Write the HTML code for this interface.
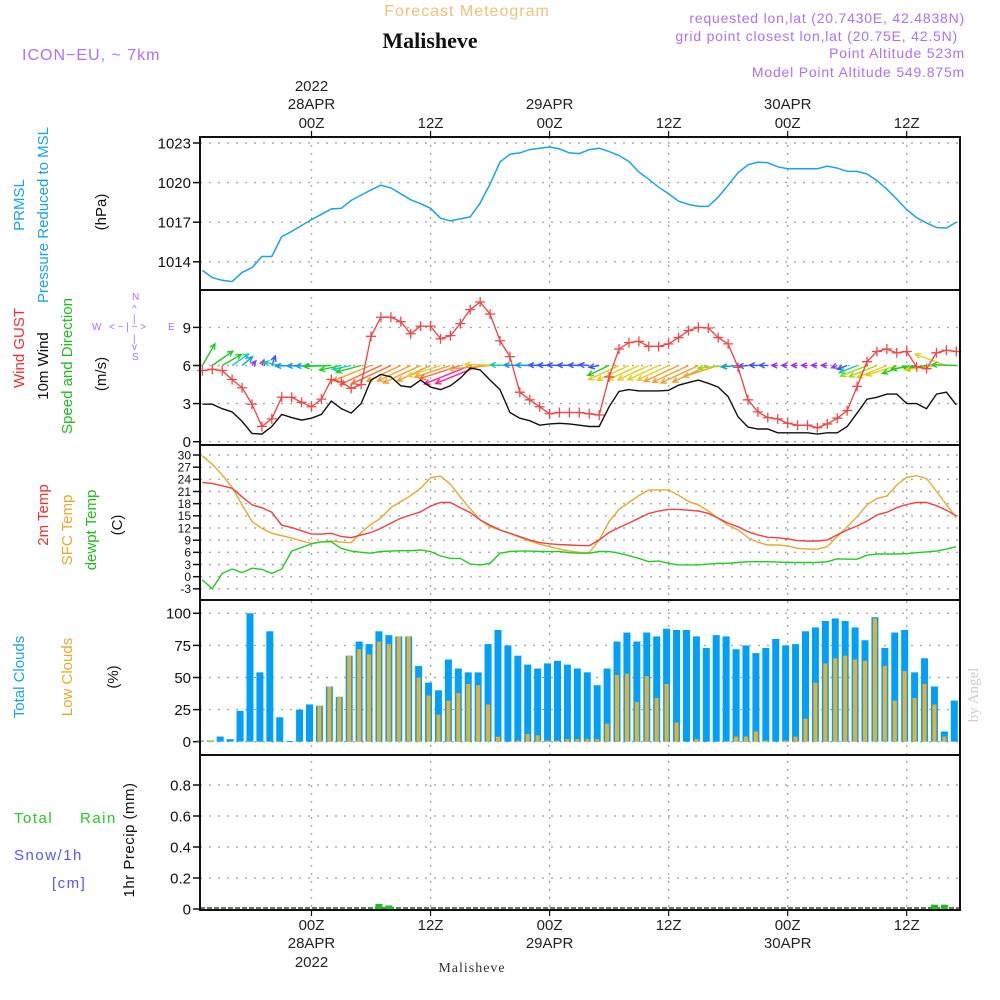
<!DOCTYPE html>
<html><head><meta charset="utf-8"><style>
html,body{margin:0;padding:0;background:#fff;}
svg{display:block;font-family:"Liberation Sans",sans-serif;}
</style></head><body>
<svg id="chart" width="1000" height="1000" viewBox="0 0 1000 1000" xmlns="http://www.w3.org/2000/svg">
<g id="static">
<text x="467" y="16" font-size="16" fill="#f2c078" text-anchor="middle" letter-spacing="1">Forecast Meteogram</text>
<text x="430" y="48" font-size="22" font-weight="bold" fill="#111" text-anchor="middle" style="font-family:'Liberation Serif',serif">Malisheve</text>
<text x="22" y="60" font-size="16" fill="#b070f0" letter-spacing="1">ICON−EU, ~ 7km</text>
<g font-size="14" fill="#b070f0" text-anchor="end" letter-spacing="0.8">
<text x="965" y="23">requested lon,lat (20.7430E, 42.4838N)</text>
<text x="958" y="41">grid point closest lon,lat (20.75E, 42.5N)</text>
<text x="965" y="58">Point Altitude 523m</text>
<text x="965" y="77">Model Point Altitude 549.875m</text>
</g>
<text x="978" y="695" font-size="15" fill="#ccc" text-anchor="middle" transform="rotate(-90 978 695)" style="font-family:'Liberation Serif',serif">by Angel</text>
<text x="472" y="972" font-size="14" fill="#333" text-anchor="middle" style="font-family:'Liberation Serif',serif" letter-spacing="1">Malisheve</text>
<g font-size="15">
<text transform="translate(24 205) rotate(-90)" text-anchor="middle" fill="#1aa3e8">PRMSL</text>
<text transform="translate(48 215) rotate(-90)" text-anchor="middle" fill="#1aa3e8">Pressure Reduced to MSL</text>
<text transform="translate(106 212) rotate(-90)" text-anchor="middle" fill="#111">(hPa)</text>
</g>
<g font-size="15">
<text transform="translate(24 348) rotate(-90)" text-anchor="middle" fill="#f03030">Wind GUST</text>
<text transform="translate(48 366) rotate(-90)" text-anchor="middle" fill="#111">10m Wind</text>
<text transform="translate(72 366) rotate(-90)" text-anchor="middle" fill="#22bb22">Speed and Direction</text>
<text transform="translate(106 374) rotate(-90)" text-anchor="middle" fill="#111">(m/s)</text>
</g>
<g font-size="10" fill="#b070f0">
<text x="132" y="300">N</text><text x="92" y="330">W</text><text x="168" y="330">E</text><text x="132" y="360">S</text>
<text x="109" y="330">&lt; − | − &gt;</text>
<text x="132" y="312">^</text><text x="133" y="322">|</text><text x="133" y="342">|</text><text x="132" y="350">v</text>
</g>
<g font-size="15">
<text transform="translate(48 515) rotate(-90)" text-anchor="middle" fill="#f03030">2m Temp</text>
<text transform="translate(72 530) rotate(-90)" text-anchor="middle" fill="#e8a830">SFC Temp</text>
<text transform="translate(96 530) rotate(-90)" text-anchor="middle" fill="#22bb22">dewpt Temp</text>
<text transform="translate(122 525) rotate(-90)" text-anchor="middle" fill="#111">(C)</text>
</g>
<g font-size="15">
<text transform="translate(24 677) rotate(-90)" text-anchor="middle" fill="#1aa3e8">Total Clouds</text>
<text transform="translate(72 677) rotate(-90)" text-anchor="middle" fill="#e8a830">Low Clouds</text>
<text transform="translate(118 677) rotate(-90)" text-anchor="middle" fill="#111">(%)</text>
</g>
<g font-size="15" letter-spacing="1.5">
<text x="14" y="823" fill="#22cc22">Total</text><text x="80" y="823" fill="#22cc22">Rain</text>
<text x="14" y="860" fill="#5555ff">Snow/1h</text>
<text x="52" y="888" fill="#5555ff">[cm]</text>
<text transform="translate(134 840) rotate(-90)" text-anchor="middle" fill="#111" letter-spacing="0.5">1hr Precip (mm)</text>
</g>
</g>
<g id="dyn"></g>
</svg>
<script>
// ---- data (hourly, h relative to 28APR 00Z) ----
const hourStart = -11;
const pressure = [1013.35,1012.8,1012.6,1012.5,1013.2,1013.55,1014.4,1014.4,1015.9,1016.3,1016.75,1017.2,1017.6,1018.0,1018.05,1018.65,1019.05,1019.45,1019.8,1019.6,1019.15,1018.7,1018.4,1018.05,1017.3,1017.1,1017.25,1017.4,1018.45,1019.9,1021.55,1022.15,1022.25,1022.5,1022.6,1022.7,1022.55,1022.25,1022.2,1022.5,1022.6,1022.35,1022.05,1021.6,1020.8,1020.25,1019.65,1019.15,1018.6,1018.35,1018.2,1018.2,1018.9,1019.8,1020.75,1021.35,1021.55,1021.5,1021.2,1021.05,1021.05,1021.05,1021.05,1021.25,1021.1,1020.85,1020.85,1020.65,1020.15,1019.5,1018.75,1017.95,1017.35,1016.95,1016.6,1016.55,1017.0];
const windGust = [5.6,5.7,5.6,4.9,4.25,2.95,1.2,1.8,3.5,3.5,3.1,2.75,3.35,4.9,4.7,4.2,4.5,8.3,9.8,9.8,9.45,8.5,9.1,9.1,8.1,8.35,9.3,10.4,11.0,10.05,7.95,6.7,3.9,3.3,2.75,2.2,2.3,2.3,2.3,2.2,2.1,5.1,7.3,7.8,7.9,7.5,7.5,7.7,8.2,8.75,9.0,8.95,8.2,7.7,5.85,3.3,2.35,1.9,1.8,1.45,1.3,1.3,1.1,1.4,1.85,2.45,4.35,6.3,7.1,7.3,7.0,7.1,5.9,5.75,7.0,7.2,7.1];
const wind10m = [2.95,2.95,2.6,2.35,1.6,0.65,0.6,1.2,2.15,1.9,1.7,1.85,2.15,3.2,2.6,2.25,3.0,4.85,5.3,5.1,4.4,4.3,4.85,4.3,4.1,4.4,5.0,5.8,5.65,4.85,4.1,2.3,1.85,1.65,1.3,1.4,1.45,1.4,1.3,1.2,1.2,2.75,3.95,4.1,4.0,4.0,4.0,4.05,4.45,4.65,4.85,4.6,4.3,3.55,1.95,1.15,1.0,1.0,0.7,0.7,0.7,0.7,0.6,0.7,0.7,1.2,2.25,3.35,3.5,3.75,3.75,3.0,3.0,2.6,3.75,3.9,2.9];
const windToDir = [30,55,60,55,50,40,20,20,280,268,268,268,268,268,258,258,255,248,245,245,245,245,245,245,252,252,252,248,248,265,272,272,272,272,272,272,272,272,272,275,260,245,245,245,245,245,245,245,245,245,245,245,252,265,265,265,272,272,272,272,272,272,272,272,248,248,248,248,248,248,252,252,262,262,262,290,272];
const temp2m = [23.2,23.0,22.4,21.8,19.7,17.7,17.0,15.9,12.7,12.1,11.3,10.5,10.5,10.7,9.9,9.6,10.3,10.9,11.9,13.2,14.4,15.2,16.0,17.4,18.3,18.3,17.0,15.8,14.0,12.7,11.5,10.7,9.9,9.05,8.4,8.1,7.9,7.8,7.7,7.65,9.05,10.9,12.1,13.2,14.4,15.6,16.2,16.6,16.6,16.4,16.2,15.6,14.4,13.2,12.3,11.1,10.3,9.7,9.6,9.3,8.9,8.8,8.8,9.05,10.3,11.5,12.5,13.7,15.2,15.9,17.0,17.8,18.3,18.3,17.5,16.4,15.0];
const tempSfc = [29.8,27.7,25.1,22.0,17.7,13.6,11.9,10.7,10.1,9.5,8.8,8.2,8.6,8.8,8.5,8.4,10.9,12.9,14.5,17.0,18.5,20.0,21.8,24.4,24.8,22.8,19.7,16.7,14.0,12.3,11.5,10.7,9.7,8.8,8.0,7.4,6.8,6.3,6.0,5.9,9.05,13.6,16.6,18.3,20.0,21.4,21.4,21.4,20.1,18.5,17.7,16.2,14.4,12.7,11.5,9.6,8.5,7.8,7.8,7.6,7.0,6.8,6.8,7.4,9.9,12.3,14.8,17.7,19.3,19.9,22.6,24.5,24.9,24.2,21.0,17.8,14.5];
const dewpt = [-0.8,-3.0,0.8,1.9,1.0,2.1,1.8,0.8,1.9,6.3,7.2,8.1,8.6,8.6,7.0,6.3,6.0,5.8,6.2,6.3,6.4,6.4,6.6,6.2,5.1,4.5,4.5,3.1,2.9,3.3,5.8,6.2,6.3,6.3,6.2,6.2,6.2,5.9,5.8,5.8,6.2,6.2,5.8,5.2,4.5,3.7,3.9,3.3,2.9,2.9,2.9,3.1,3.3,3.3,3.5,3.7,3.7,3.7,3.6,3.5,3.5,3.5,3.5,3.7,4.4,4.3,4.3,5.3,5.6,5.6,5.6,5.7,5.9,6.1,6.3,6.8,7.4];
const totalClouds = [1,1,4,2,24,100,54,86,19,0.5,25,29,28,43,35,67,78,76,86,83,82,82,59,46,40,64,57,54,54,76,87,75,67,60,57,61,63,60,57,54,44,57,78,85,78,85,82,88,87,87,82,73,83,82,72,75,69,73,80,75,76,86,89,94,96,94,89,79,97,73,85,87,54,65,43,8,32];
const lowClouds = [1,1,0,0,0,0,0,0,0,0,0,0,28,43,35,67,72,68,78,76,82,82,50,36,21,32,38,45,44,29,4,0,1,6,5,1,1,2,2,2,2,14,52,53,31,51,34,45,15,0,2,0,0,0,4,4,8,1,0,1,4,18,46,61,65,67,64,63,96,59,32,55,34,45,29,4,0];
const precip = [0,0,0,0,0,0,0,0,0,0,0,0,0,0,0,0,0,0,0.02,0.01,0,0,0,0,0,0,0,0,0,0,0,0,0,0,0,0,0,0,0,0,0,0,0,0,0,0,0,0,0,0,0,0,0,0,0,0,0,0,0,0,0,0,0,0,0,0,0,0,0,0,0,0,0,0,0.015,0.015,0];
const pressureTicks = [1014,1017,1020,1023];
const windTicks = [0,3,6,9];
const tempTicks = [-3,0,3,6,9,12,15,18,21,24,27,30];
const cloudTicks = [0,25,50,75,100];
const precipTicks = [0,0.2,0.4,0.6,0.8];
const timeTicks = [0,12,24,36,48,60];
const timeLabels = ["00Z","12Z","00Z","12Z","00Z","12Z"];
const dateLabels = ["28APR","","29APR","","30APR",""];

// ---- scales ----
const X0=200, X1=960;
const xH = h => 311.5 + h*9.92;
const panels = {p:[137,290],w:[290,445],t:[445,600],c:[600,755],r:[755,910]};
const yP = v => 143 + (1023-v)*13.2;
const yW = v => 441.7 - v*12.7;
const yT = v => 455 + (30-v)*4.056;
const yC = v => 741.7 - v*1.284;
const yR = v => 909 - v*155;

const NS='http://www.w3.org/2000/svg';
const dyn=document.getElementById('dyn');
function mk(tag,attrs,parent){const e=document.createElementNS(NS,tag);for(const k in attrs)e.setAttribute(k,attrs[k]);(parent||dyn).appendChild(e);return e;}
function grp(){const g=document.createElementNS(NS,'g');dyn.appendChild(g);return g;}

// grids
const gridG=grp();


function hgrid(ticks,yf){ticks.forEach(t=>{mk('line',{x1:X0,x2:X1,y1:yf(t),y2:yf(t),stroke:'#aaa','stroke-width':1.4,'stroke-dasharray':'2,7'},gridG);});}
hgrid(pressureTicks,yP);hgrid(windTicks,yW);hgrid(tempTicks,yT);hgrid(cloudTicks,yC);hgrid(precipTicks.slice(1),yR);
timeTicks.forEach(h=>{mk('line',{x1:xH(h),x2:xH(h),y1:137,y2:910,stroke:'#aaa','stroke-width':1.4,'stroke-dasharray':'2,6'},gridG);});

// y tick labels
function yLabels(ticks,yf,name,fs,fmt){const g=grp();


ticks.forEach(t=>{mk('line',{x1:193,x2:200,y1:yf(t),y2:yf(t),stroke:'#111','stroke-width':1.5},g);
const tx=mk('text',{x:191,y:yf(t)+fs*0.36,'font-size':fs,'text-anchor':'end',fill:'#111'},g);tx.textContent=fmt?fmt(t):t;});}
yLabels(pressureTicks,yP,'pressure-y-ticks',15);
yLabels(windTicks,yW,'wind-y-ticks',15);
yLabels(tempTicks,yT,'temp-y-ticks',12);
yLabels(cloudTicks,yC,'cloud-y-ticks',15);
yLabels(precipTicks,yR,'precip-y-ticks',15,t=>t===0?'0':t.toFixed(1));

// time labels
const tg=grp();


timeTicks.forEach((h,i)=>{const x=xH(h);
 mk('line',{x1:x,x2:x,y1:131,y2:137,stroke:'#111','stroke-width':1.2},tg);
 mk('line',{x1:x,x2:x,y1:910,y2:916,stroke:'#111','stroke-width':1.2},tg);
 let t=mk('text',{x:x,y:128,'font-size':15,'text-anchor':'middle',fill:'#222'},tg);t.textContent=timeLabels[i];
 t=mk('text',{x:x,y:930,'font-size':15,'text-anchor':'middle',fill:'#222'},tg);t.textContent=timeLabels[i];
 if(dateLabels[i]){t=mk('text',{x:x,y:109,'font-size':15,'text-anchor':'middle',fill:'#222'},tg);t.textContent=dateLabels[i];
  t=mk('text',{x:x,y:948,'font-size':15,'text-anchor':'middle',fill:'#222'},tg);t.textContent=dateLabels[i];}
});
let ty=mk('text',{x:xH(0),y:91,'font-size':15,'text-anchor':'middle',fill:'#222'},tg);ty.textContent='2022';
ty=mk('text',{x:xH(0),y:967,'font-size':15,'text-anchor':'middle',fill:'#222'},tg);ty.textContent='2022';

function linePath(arr,yf){return arr.map((v,i)=>(i?'L':'M')+xH(hourStart+i).toFixed(1)+' '+yf(v).toFixed(1)).join(' ');}

// pressure
const pl=mk('path',{d:linePath(pressure,yP),fill:'none',stroke:'#1aa3e8','stroke-width':1.5});



// wind arrows
function speedColor(v){if(v<1)return'#9933ee';if(v<1.5)return'#3355ff';if(v<2)return'#1199ee';if(v<2.6)return'#11ccbb';if(v<3.3)return'#22cc22';if(v<3.7)return'#99dd11';if(v<4.2)return'#e6cc22';if(v<5)return'#f0a030';if(v<5.5)return'#ff6633';return'#ff2288';}
const ag=grp();


wind10m.forEach((v,i)=>{const a=windToDir[i]*Math.PI/180;const L=Math.max(6,v*8.5);
 const x0=xH(hourStart+i),y0=yW(6);const x1=x0+Math.sin(a)*L,y1=y0-Math.cos(a)*L;
 const c=speedColor(v);const bx=Math.sin(a),by=-Math.cos(a);
 const hl=6;const ang=0.45;
 const hx1=x1-hl*(bx*Math.cos(ang)-by*Math.sin(ang)),hy1=y1-hl*(by*Math.cos(ang)+bx*Math.sin(ang));
 const hx2=x1-hl*(bx*Math.cos(ang)+by*Math.sin(ang)),hy2=y1-hl*(by*Math.cos(ang)-bx*Math.sin(ang));
 const p=mk('path',{d:`M${x0} ${y0}L${x1} ${y1}M${hx1} ${hy1}L${x1} ${y1}L${hx2} ${hy2}`,stroke:c,'stroke-width':1.4,fill:'none'},ag);
 
 
});
const wl=mk('path',{d:linePath(wind10m,yW),fill:'none',stroke:'#111','stroke-width':1.4});


const gl=mk('path',{d:linePath(windGust,yW),fill:'none',stroke:'#f04040','stroke-width':1.3});


const gm=grp();


windGust.forEach((v,i)=>{const x=xH(hourStart+i),y=yW(v);
 const m=mk('path',{d:`M${x-5} ${y}L${x+5} ${y}M${x} ${y-5}L${x} ${y+5}`,stroke:'#f04848','stroke-width':1.3},gm);
 
 
});

// temperature
[[tempSfc,'#e8a830','sfc-temp-line'],[temp2m,'#f04040','temp-2m-line'],[dewpt,'#22cc22','dewpoint-line']].forEach(([arr,c,n])=>{
 const l=mk('path',{d:linePath(arr,yT),fill:'none',stroke:c,'stroke-width':1.4});
 
 
});

// clouds
const cg=grp();


totalClouds.forEach((v,i)=>{const x=xH(hourStart+i)-2;
 const b=mk('rect',{x:x-3.5,y:yC(v),width:7,height:Math.max(0.8,yC(0)-yC(v)),fill:'#009ff8'},cg);
 
 
 const lv=lowClouds[i];
 if(lv>0){const o=mk('rect',{x:x-2,y:yC(lv),width:4,height:Math.max(0.8,yC(0)-yC(lv)),fill:'#e8b030'},cg);
 
 }
});

// precip
const rg=grp();


mk('line',{x1:X0,x2:X1,y1:908,y2:908,stroke:'#225522','stroke-width':1.5,'stroke-dasharray':'5,2'},rg);
precip.forEach((v,i)=>{if(v>0){const x=xH(hourStart+i)-2;
 const b=mk('rect',{x:x-3.5,y:yR(v)-2,width:7,height:yR(0)-yR(v)+2,fill:'#22bb22'},rg);
 
 }});

// frames
const fg=grp();


Object.values(panels).forEach(([a,b])=>{mk('rect',{x:X0,y:a,width:X1-X0,height:b-a,fill:'none',stroke:'#111','stroke-width':2},fg);});
</script>
</body></html>
